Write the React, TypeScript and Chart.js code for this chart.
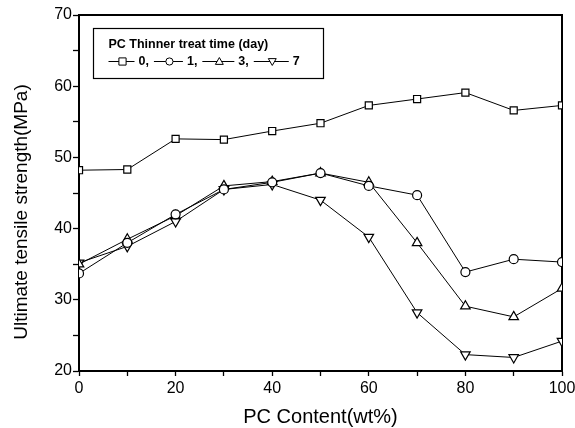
import React, { useEffect, useRef } from "react";
import { Chart, registerables } from "chart.js";
Chart.register(...registerables);

const pcContent = [0, 10, 20, 30, 40, 50, 60, 70, 80, 90, 100];
const day0 = [48.2, 48.3, 52.6, 52.5, 53.7, 54.8, 57.3, 58.2, 59.1, 56.6, 57.3];
const day1 = [33.7, 38.0, 42.0, 45.5, 46.5, 47.8, 46.0, 44.7, 33.9, 35.7, 35.3];
const day3 = [35.0, 38.5, 41.8, 46.0, 46.6, 47.8, 46.5, 38.0, 29.1, 27.6, 31.6];
const day7 = [35.2, 37.5, 41.0, 45.5, 46.2, 44.0, 38.8, 28.2, 22.3, 21.9, 24.2];
const seriesLabels = ["0", "1", "3", "7"];
const legendTitle = "PC Thinner treat time (day)";
const xTitle = "PC Content(wt%)";
const yTitle = "Ultimate tensile strength(MPa)";

const FONT = '"Liberation Sans", Arial, sans-serif';

function drawMarker(ctx: CanvasRenderingContext2D, kind: string, x: number, y: number, r: number) {
  ctx.beginPath();
  if (kind === "rect") {
    ctx.rect(x - r, y - r, 2 * r, 2 * r);
  } else if (kind === "circle") {
    ctx.arc(x, y, r, 0, Math.PI * 2);
  } else if (kind === "up") {
    ctx.moveTo(x, y - r * 1.1);
    ctx.lineTo(x + r * 1.1, y + r * 0.8);
    ctx.lineTo(x - r * 1.1, y + r * 0.8);
    ctx.closePath();
  } else {
    ctx.moveTo(x, y + r * 1.1);
    ctx.lineTo(x + r * 1.1, y - r * 0.8);
    ctx.lineTo(x - r * 1.1, y - r * 0.8);
    ctx.closePath();
  }
  ctx.fillStyle = "#fff";
  ctx.fill();
  ctx.stroke();
}

const titlesAndLegend = {
  id: "titlesAndLegend",
  afterDraw(chart: any) {
    const ctx: CanvasRenderingContext2D = chart.ctx;
    const a = chart.chartArea;
    ctx.save();
    ctx.strokeStyle = "#000";
    ctx.fillStyle = "#000";
    ctx.textAlign = "center";
    ctx.textBaseline = "middle";
    ctx.font = `20px ${FONT}`;
    ctx.fillText(xTitle, (a.left + a.right) / 2, a.bottom + 46);
    ctx.save();
    ctx.font = `19px ${FONT}`;
    ctx.translate(22, (a.top + a.bottom) / 2 + 19);
    ctx.rotate(-Math.PI / 2);
    ctx.fillText(yTitle, 0, 0);
    ctx.restore();

    const bx = Math.round(a.left) + 14.5;
    const by = Math.round(a.top) + 13.5;
    ctx.fillStyle = "#fff";
    ctx.fillRect(bx, by, 230, 50);
    ctx.lineWidth = 1.2;
    ctx.strokeRect(bx, by, 230, 50);
    ctx.fillStyle = "#000";
    ctx.textAlign = "left";
    ctx.font = `bold 12.5px ${FONT}`;
    ctx.fillText(legendTitle, bx + 15, by + 16);
    const kinds = ["rect", "circle", "up", "down"];
    let cx = bx + 15;
    const ly = by + 33;
    ctx.lineWidth = 1;
    seriesLabels.forEach((lab, i) => {
      const len = 26 + i * 3;
      ctx.beginPath();
      ctx.moveTo(cx, ly);
      ctx.lineTo(cx + len, ly);
      ctx.stroke();
      drawMarker(ctx, kinds[i], cx + len / 2 + 1, ly, 3.6);
      ctx.fillStyle = "#000";
      const txt = i < seriesLabels.length - 1 ? lab + "," : lab;
      ctx.fillText(txt, cx + len + 4, ly);
      cx += len + 4 + ctx.measureText(txt).width + 5;
    });
    ctx.restore();
  },
};

export default function App() {
  const ref = useRef<HTMLCanvasElement>(null);
  useEffect(() => {
    document.body.style.margin = "0";
    const mk = (label: string, data: number[], style: string, radius: number, rotation = 0) => ({
      label,
      data: pcContent.map((x, i) => ({ x, y: data[i] })),
      xAxisID: "x",
      yAxisID: "y",
      borderColor: "#000",
      borderWidth: 1,
      pointStyle: style,
      pointRadius: radius,
      pointRotation: rotation,
      pointBackgroundColor: "#fff",
      pointBorderColor: "#000",
      pointBorderWidth: 1.2,
      tension: 0,
      fill: false,
      clip: 0,
    });
    const tickGrid = (len: number) => ({
      display: true,
      drawOnChartArea: false,
      drawTicks: true,
      tickLength: len,
      tickWidth: 1.3,
      tickColor: "#000",
      color: "#000",
    });
    const frameBorder = { display: true, color: "#000", width: 2 };
    const chart = new Chart(ref.current!, {
      type: "line",
      data: {
        datasets: [
          mk(seriesLabels[0], day0, "rect", 5),
          mk(seriesLabels[1], day1, "circle", 4.5),
          mk(seriesLabels[2], day3, "triangle", 5.5),
          mk(seriesLabels[3], day7, "triangle", 5.5, 180),
        ],
      },
      options: {
        animation: false,
        responsive: false,
        layout: { padding: { top: 15, right: 13, left: 0, bottom: 0 } },
        plugins: { legend: { display: false }, tooltip: { enabled: false } },
        scales: {
          x: {
            type: "linear",
            position: "bottom",
            min: 0,
            max: 100,
            grid: tickGrid(5),
            border: frameBorder,
            ticks: {
              stepSize: 10,
              padding: 3,
              color: "#000",
              maxRotation: 0,
              autoSkip: false,
              font: { family: FONT, size: 16 },
              callback: (v: any) => (Number(v) % 20 === 0 ? String(v) : ""),
            },
            afterFit: (s: any) => {
              s.height = 57;
              s.paddingLeft = 0;
              s.paddingRight = 0;
            },
          },
          y: {
            type: "linear",
            position: "left",
            min: 20,
            max: 70,
            grid: tickGrid(6),
            border: frameBorder,
            ticks: {
              stepSize: 5,
              padding: 1,
              color: "#000",
              autoSkip: false,
              font: { family: FONT, size: 16 },
              callback: (v: any) => (Number(v) % 10 === 0 ? String(v) : ""),
            },
            afterFit: (s: any) => {
              s.width = 79;
              s.paddingTop = 0;
              s.paddingBottom = 0;
            },
          },
          x2: {
            type: "linear",
            position: "top",
            min: 0,
            max: 100,
            grid: { display: false },
            border: frameBorder,
            ticks: { display: false },
            afterFit: (s: any) => {
              s.height = 0;
              s.paddingLeft = 0;
              s.paddingRight = 0;
            },
          },
          y2: {
            type: "linear",
            position: "right",
            min: 20,
            max: 70,
            grid: { display: false },
            border: frameBorder,
            ticks: { display: false },
            afterFit: (s: any) => {
              s.width = 0;
              s.paddingTop = 0;
              s.paddingBottom = 0;
            },
          },
        },
      },
      plugins: [titlesAndLegend],
    } as any);
    return () => chart.destroy();
  }, []);
  return (
    <div style={{ width: 575, height: 428 }}>
      <canvas ref={ref} width={575} height={428} style={{ display: "block", width: 575, height: 428 }} />
    </div>
  );
}
